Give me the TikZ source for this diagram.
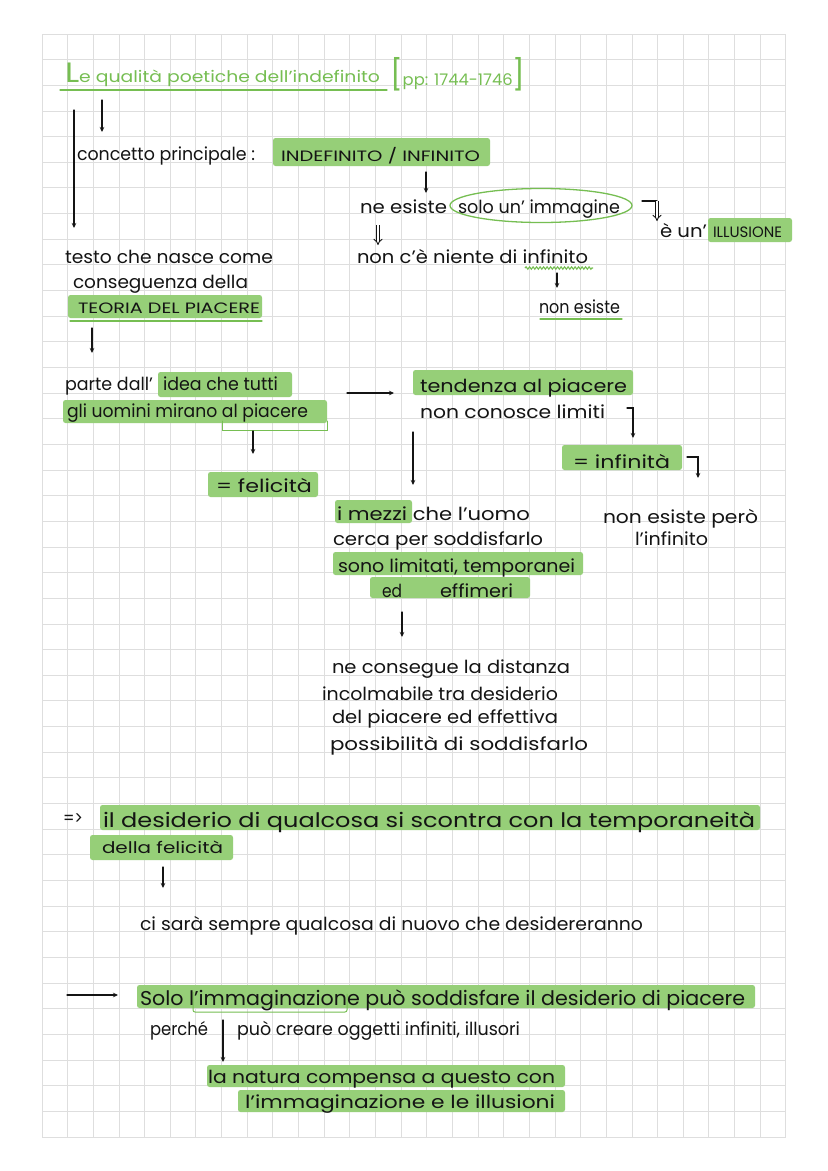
\documentclass[tikz,border=0pt]{standalone}
\usepackage{fontspec}
\setmainfont{Poppins}
\usepackage{graphicx}
\usetikzlibrary{arrows.meta,decorations.pathmorphing}
\definecolor{hl}{RGB}{150,207,120}
\definecolor{tg}{RGB}{118,190,82}
\definecolor{gridc}{RGB}{222,222,222}
\definecolor{ink}{RGB}{20,20,20}
\newcommand{\fitw}[2]{\resizebox{#1pt}{\height}{#2}}
\begin{document}
\begin{tikzpicture}[x=1pt,y=-1pt,
 gridline/.style={draw=gridc, line width=0.9pt},
 txt/.style={anchor=base west, inner sep=0pt, outer sep=0pt, text=ink, font=\fontsize{18}{18}\selectfont},
 bigtxt/.style={txt, font=\fontsize{20}{20}\selectfont},
 smalltxt/.style={txt, font=\fontsize{16}{16}\selectfont},
 capstxt/.style={txt, font=\fontsize{15}{15}\selectfont},
 titletxt/.style={txt, text=tg, font=\fontsize{16}{16}\selectfont},
 hlbox/.style={fill=hl, rounded corners=2.5pt},
 gline/.style={draw=tg, line width=1.3pt, line cap=round},
 arr/.style={draw=ink, line width=1.3pt, line cap=round, -{Stealth[length=5pt,width=4.5pt]}},
 plainline/.style={draw=ink, line width=1.3pt, line cap=round},
 dblarr/.style={draw=ink, line width=0.9pt, double distance=2.2pt, -{Implies[length=4pt]}},
]
\useasboundingbox (0,0) rectangle (828,1171);
\fill[white] (0,0) rectangle (828,1171);
% grid paper
\foreach \i in {0,...,29} \draw[gridline] ({42+\i*25.65},34) -- ({42+\i*25.65},1137);
\foreach \j in {0,...,43} \draw[gridline] (42,{34+\j*25.65}) -- ({42+29*25.65},{34+\j*25.65});

% highlights
\fill[hlbox] (273,138) rectangle (490,166);
\fill[hlbox] (708,218) rectangle (792,242);
\fill[hlbox] (68,295) rectangle (262,318);
\fill[hlbox] (158,372) rectangle (292,397);
\fill[hlbox] (63,400) rectangle (327,423);
\fill[hlbox] (208,472) rectangle (318,497);
\fill[hlbox] (413,370) rectangle (633,395);
\fill[hlbox] (562,445) rectangle (682,470);
\fill[hlbox] (335,500) rectangle (412,523);
\fill[hlbox] (333,552) rectangle (583,575);
\fill[hlbox] (370,577) rectangle (530,598);
\fill[hlbox] (100,805) rectangle (760,830);
\fill[hlbox] (90,835) rectangle (233,860);
\fill[hlbox] (137,985) rectangle (755,1008);
\fill[hlbox] (207,1065) rectangle (565,1087);
\fill[hlbox] (238,1090) rectangle (565,1112);

% green marks
\draw[gline] (60,90) -- (387,90);
\draw[gline] (70,321) -- (262,321);
\draw[gline] (540,319) -- (622,319);
\draw[draw=tg, line width=1.1pt, decorate, decoration={snake, amplitude=1.2pt, segment length=3.5pt}] (525,268) -- (593,268);
\draw[gline] (541,205.5) ellipse [x radius=91pt, y radius=17pt];
\draw[gline, line width=1pt] (222,421) -- (222,430) -- (327,430) -- (327,421);
\draw[gline, line width=1pt, rounded corners=2pt] (193,992) -- (193,1012) -- (347,1012) -- (347,994);

% texts
\node[titletxt] (title) at (65,82) {\fitw{315}{{\fontsize{28}{28}\selectfont L}e qualità poetiche dell'indefinito}};
\node[titletxt] (pages) at (390,85) {{\fontsize{30}{30}\selectfont [}\fitw{110}{pp: 1744-1746}{\fontsize{30}{30}\selectfont ]}};
\node[txt] (concetto) at (77,160) {\fitw{178}{concetto principale :}};
\node[capstxt] (indef) at (281,161) {\fitw{199}{INDEFINITO / INFINITO}};
\node[txt] (neesiste) at (360,213) {\fitw{87}{ne esiste}};
\node[txt] (immagine) at (458,213) {\fitw{162}{solo un' immagine}};
\node[txt] (niente) at (357,263) {\fitw{231}{non c'è niente di infinito}};
\node[txt] (nonesiste) at (539,313) {\fitw{81}{non esiste}};
\node[txt] (eun) at (660,237) {\fitw{47}{è un'}};
\node[capstxt] (illusione) at (713,237) {\fitw{69}{ILLUSIONE}};
\node[txt] (testo) at (65,263) {\fitw{208}{testo che nasce come}};
\node[txt] (consegue) at (73,288) {\fitw{175}{conseguenza della}};
\node[capstxt] (teoria) at (78,313) {\fitw{182}{TEORIA DEL PIACERE}};
\node[txt] (parte) at (65,390) {\fitw{88}{parte dall'}};
\node[txt] (idea) at (163,390) {\fitw{115}{idea che tutti}};
\node[txt] (uomini) at (67,417) {\fitw{241}{gli uomini mirano al piacere}};
\node[txt] (felicita) at (216,492) {\fitw{96}{= felicità}};
\node[txt] (tendenza) at (420,392) {\fitw{207}{tendenza al piacere}};
\node[txt] (limiti) at (420,418) {\fitw{185}{non conosce limiti}};
\node[txt] (infinita) at (573,468) {\fitw{97}{= infinità}};
\node[txt] (mezzi) at (337,520) {\fitw{193}{i mezzi che l'uomo}};
\node[txt] (pero) at (603,523) {\fitw{155}{non esiste però}};
\node[txt] (linfinito) at (635,545) {\fitw{73}{l'infinito}};
\node[txt] (cerca) at (333,545) {\fitw{210}{cerca per soddisfarlo}};
\node[txt] (limitati) at (338,572) {\fitw{237}{sono limitati, temporanei}};
\node[txt] (ed) at (382,597) {\fitw{20}{ed}};
\node[txt] (effimeri) at (440,597) {\fitw{73}{effimeri}};
\node[txt] (distanza) at (332,673) {\fitw{238}{ne consegue la distanza}};
\node[txt] (incolm) at (322,700) {\fitw{236}{incolmabile tra desiderio}};
\node[txt] (delpiacere) at (332,723) {\fitw{226}{del piacere ed effettiva}};
\node[txt] (possib) at (330,750) {\fitw{258}{possibilità di soddisfarlo}};
\node[txt] (implica) at (63,824) {\fitw{20}{=>}};
\node[bigtxt] (desiderio) at (103,827) {\fitw{652}{il desiderio di qualcosa si scontra con la temporaneità}};
\node[smalltxt] (dellafel) at (102,853) {\fitw{121}{della felicità}};
\node[txt] (cisara) at (140,930) {\fitw{503}{ci sarà sempre qualcosa di nuovo che desidereranno}};
\node[bigtxt] (solo) at (140,1005) {\fitw{605}{Solo l'immaginazione può soddisfare il desiderio di piacere}};
\node[txt] (perche) at (150,1035) {\fitw{58}{perché}};
\node[txt] (puo) at (237,1035) {\fitw{283}{può creare oggetti infiniti, illusori}};
\node[txt] (natura) at (208,1083) {\fitw{347}{la natura compensa a questo con}};
\node[txt] (illusioni) at (245,1108) {\fitw{310}{l'immaginazione e le illusioni}};

% connector end points
\coordinate (a1s) at (102,100); \coordinate (a1e) at (102,132);
\coordinate (a2s) at (74,110);  \coordinate (a2e) at (74,228);
\coordinate (a3s) at (426,172); \coordinate (a3e) at (426,193);
\coordinate (d1s) at (378,225); \coordinate (d1e) at (378,245);
\coordinate (a4s) at (557,273); \coordinate (a4e) at (557,288);
\coordinate (b1s) at (642,201); \coordinate (b1m) at (657,201); \coordinate (b1e) at (657,221);
\coordinate (a5s) at (92,328);  \coordinate (a5e) at (92,353);
\coordinate (a6s) at (253,431); \coordinate (a6e) at (253,454);
\coordinate (a7s) at (347,393); \coordinate (a7e) at (394,393);
\coordinate (k1) at (627,408); \coordinate (k2) at (633,408); \coordinate (k3) at (633,438);
\coordinate (a8s) at (413,432); \coordinate (a8e) at (413,485);
\coordinate (m1) at (687,457); \coordinate (m2) at (698,457); \coordinate (m3) at (698,478);
\coordinate (a9s) at (402,612); \coordinate (a9e) at (402,637);
\coordinate (a10s) at (163,867); \coordinate (a10e) at (163,888);
\coordinate (a11s) at (67,995); \coordinate (a11e) at (118,995);
\coordinate (a12s) at (223,1020); \coordinate (a12e) at (223,1062);

% connectors
\draw[arr] (a1s) -- (a1e);
\draw[arr] (a2s) -- (a2e);
\draw[arr] (a3s) -- (a3e);
\draw[dblarr] (d1s) -- (d1e);
\draw[arr] (a4s) -- (a4e);
\draw[plainline] (b1s) -- (b1m);
\draw[dblarr] (b1m) -- (b1e);
\draw[arr] (a5s) -- (a5e);
\draw[arr] (a6s) -- (a6e);
\draw[arr] (a7s) -- (a7e);
\draw[arr] (k1) -- (k2) -- (k3);
\draw[arr] (a8s) -- (a8e);
\draw[arr] (m1) -- (m2) -- (m3);
\draw[arr] (a9s) -- (a9e);
\draw[arr] (a10s) -- (a10e);
\draw[arr] (a11s) -- (a11e);
\draw[arr] (a12s) -- (a12e);
\end{tikzpicture}
\end{document}
